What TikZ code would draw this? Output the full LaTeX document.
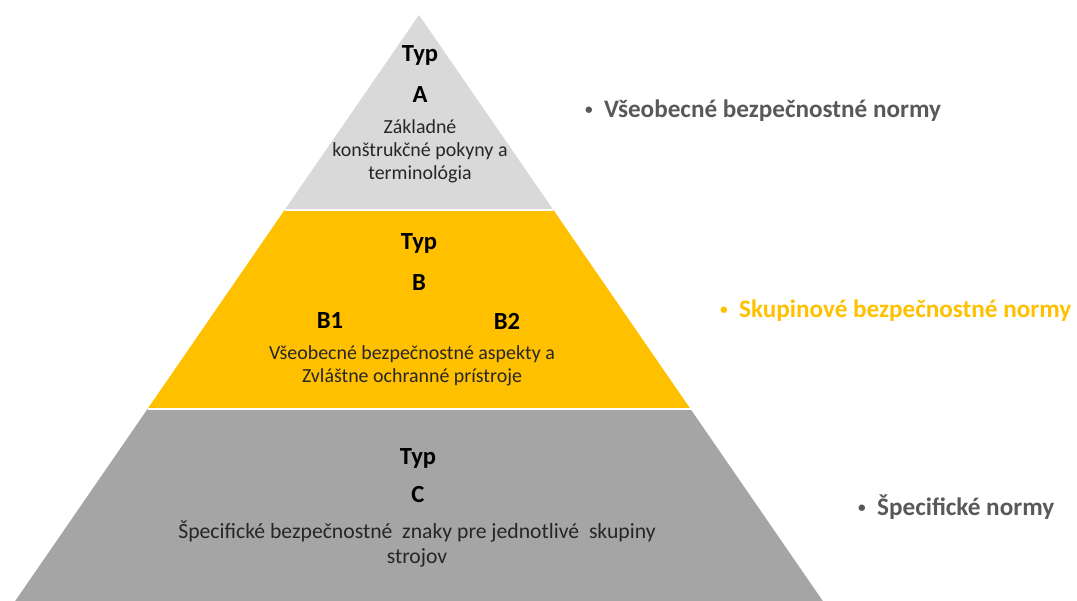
\documentclass[tikz,border=0pt]{standalone}
\usepackage{fontspec}
\setmainfont{Carlito}
\definecolor{tierA}{HTML}{D9D9D9}
\definecolor{tierB}{HTML}{FFC000}
\definecolor{tierC}{HTML}{A5A5A5}
\definecolor{normgray}{HTML}{595959}
\newcommand{\normbullet}{\raisebox{0.12em}{\fontsize{13}{13}\selectfont\textbullet}\hspace{0.45em}}
\begin{document}
\begin{tikzpicture}[
  x=0.03cm, y=-0.03cm,
  tier/.style={draw=none},
  sep/.style={white, line width=2pt},
  head/.style={font=\bfseries\fontsize{21}{24}\selectfont, text=black, inner sep=0pt},
  body/.style={font=\fontsize{17}{19.5}\selectfont, align=center, text=black!85, inner sep=0pt},
  norm/.style={font=\bfseries\fontsize{21.5}{24}\selectfont, anchor=west, inner sep=0pt}
]
\useasboundingbox (0,0) rectangle (1077,601);

% Pyramid tiers
\coordinate (apex) at (419,15);
\coordinate (ab-l) at (284.6,210);
\coordinate (ab-r) at (553.4,210);
\coordinate (bc-l) at (147.5,409);
\coordinate (bc-r) at (690.5,409);
\coordinate (base-l) at (15.2,601);
\coordinate (base-r) at (822.8,601);
\fill[tier, tierA] (apex) -- (ab-r) -- (ab-l) -- cycle;
\fill[tier, tierB] (ab-l) -- (ab-r) -- (bc-r) -- (bc-l) -- cycle;
\fill[tier, tierC] (bc-l) -- (bc-r) -- (base-r) -- (base-l) -- cycle;
\draw[sep] (ab-l) -- (ab-r);
\draw[sep] (bc-l) -- (bc-r);

% Type A
\node[head] (typA) at (420,55) {Typ};
\node[head] (letA) at (420,95) {A};
\node[body] (txtA) at (420,151) {Základné\\konštrukčné pokyny a\\terminológia};

% Type B
\node[head] (typB) at (419,243) {Typ};
\node[head] (letB) at (419,283) {B};
\node[head] (b1) at (330,321) {B1};
\node[head] (b2) at (507,321) {B2};
\node[body] (txtB) at (412,366) {Všeobecné bezpečnostné aspekty a\\Zvláštne ochranné prístroje};

% Type C
\node[head] (typC) at (418,458) {Typ};
\node[head] (letC) at (418,495) {C};
\node[body, font=\fontsize{18.5}{21.5}\selectfont] (txtC) at (417,544) {Špecifické bezpečnostné\ \ znaky pre jednotlivé\ \ skupiny\\strojov};

% Labels
\node[norm, text=normgray] (normA) at (585,111) {\normbullet Všeobecné bezpečnostné normy};
\node[norm, text=tierB] (normB) at (720,311) {\normbullet Skupinové bezpečnostné normy};
\node[norm, text=normgray] (normC) at (858,507) {\normbullet Špecifické normy};
\end{tikzpicture}
\end{document}
